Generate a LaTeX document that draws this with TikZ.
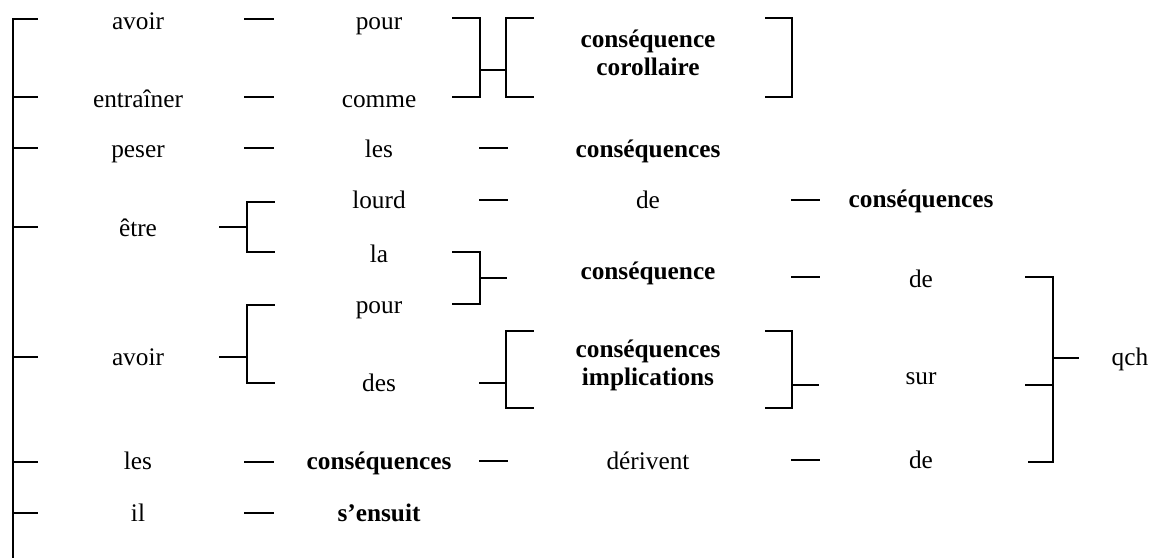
\documentclass[tikz,border=0pt]{standalone}
\usepackage{fontspec}
\setmainfont{Liberation Serif}
\begin{document}
\begin{tikzpicture}[x=1pt,y=-1pt,
  ln/.style={line width=1.1pt,line cap=rect},
  w/.style={anchor=base,inner sep=0pt,font=\fontsize{25.3}{30}\selectfont},
  b/.style={anchor=base,inner sep=0pt,font=\fontsize{25.3}{30}\selectfont\bfseries}]
\useasboundingbox (0,0) rectangle (1151,557);
% column 1
\node[w] (a1) at (138,29) {avoir};
\node[w] (a2) at (138,107) {entraîner};
\node[w] (a3) at (138,157) {peser};
\node[w] (a4) at (138,236) {être};
\node[w] (a5) at (138,365) {avoir};
\node[w] (a6) at (138,469) {les};
\node[w] (a7) at (138,521) {il};
% column 2
\node[w] (b1) at (379,29) {pour};
\node[w] (b2) at (379,107) {comme};
\node[w] (b3) at (379,157) {les};
\node[w] (b4) at (379,208) {lourd};
\node[w] (b5) at (379,262) {la};
\node[w] (b6) at (379,313) {pour};
\node[w] (b7) at (379,391) {des};
\node[b] (b8) at (379,469) {conséquences};
\node[b] (b9) at (379,521) {s’ensuit};
% column 3
\node[b] (c1) at (648,47) {conséquence};
\node[b] (c2) at (648,75) {corollaire};
\node[b] (c3) at (648,157) {conséquences};
\node[w] (c4) at (648,208) {de};
\node[b] (c5) at (648,279) {conséquence};
\node[b] (c6) at (648,357) {conséquences};
\node[b] (c7) at (648,385) {implications};
\node[w] (c8) at (648,469) {dérivent};
% column 4
\node[b] (d1) at (921,207) {conséquences};
\node[w] (d2) at (921,287) {de};
\node[w] (d3) at (921,384) {sur};
\node[w] (d4) at (921,468) {de};
\node[w] (q) at (1130,365) {qch};
% left spine
\draw[ln] (37,19) -- (13,19) -- (13,557);
\foreach \y in {97,148,227,357,462,513} \draw[ln] (13,\y) -- (37,\y);
% column 1 dashes
\foreach \y in {19,97,148,462,513} \draw[ln] (245,\y) -- (273,\y);
% etre bracket
\draw[ln] (220,227) -- (247,227);
\draw[ln] (274,202) -- (247,202) -- (247,252) -- (274,252);
% avoir bracket
\draw[ln] (220,357) -- (247,357);
\draw[ln] (274,305) -- (247,305) -- (247,383) -- (274,383);
% column 2 dashes
\foreach \y in {148,200,461} \draw[ln] (480,\y) -- (507,\y);
% pour/comme bracket
\draw[ln] (453,18) -- (480,18) -- (480,97) -- (453,97);
\draw[ln] (480,70) -- (506,70);
\draw[ln] (533,18) -- (506,18) -- (506,97) -- (533,97);
\draw[ln] (766,18) -- (792,18) -- (792,97) -- (766,97);
% la/pour bracket
\draw[ln] (453,252) -- (480,252) -- (480,304) -- (453,304);
\draw[ln] (480,278) -- (506,278);
% des bracket
\draw[ln] (480,383) -- (506,383);
\draw[ln] (533,331) -- (506,331) -- (506,408) -- (533,408);
\draw[ln] (766,331) -- (792,331) -- (792,408) -- (766,408);
\draw[ln] (792,385) -- (818,385);
% column 3 dashes
\foreach \y in {200,277,460} \draw[ln] (792,\y) -- (819,\y);
% big right bracket
\draw[ln] (1026,277) -- (1053,277) -- (1053,462) -- (1029,462);
\draw[ln] (1026,385) -- (1053,385);
\draw[ln] (1053,358) -- (1078,358);
\end{tikzpicture}
\end{document}
